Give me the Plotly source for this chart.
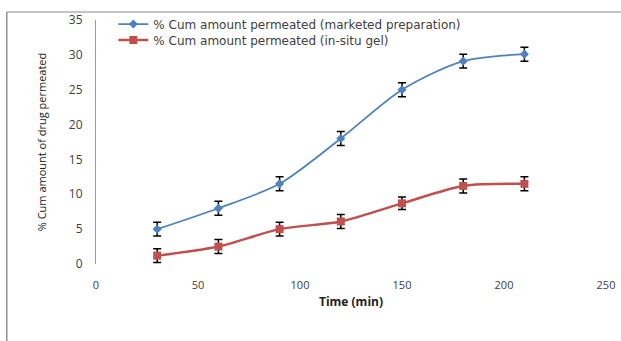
import plotly.graph_objects as go

time_min = [30, 60, 90, 120, 150, 180, 210]
marketed = [5.0, 8.0, 11.5, 18.0, 25.0, 29.1, 30.1]
marketed_err = [1.0, 1.0, 1.0, 1.0, 1.0, 1.0, 1.0]
insitu = [1.2, 2.5, 5.0, 6.1, 8.7, 11.2, 11.5]
insitu_err = [1.0, 1.0, 1.0, 1.0, 0.9, 1.0, 1.0]

FONT = "Open Sans"
LEG_FONT = dict(family="DejaVu Sans", size=12, color="#404040")

fig = go.Figure()
fig.add_trace(go.Scatter(
    x=time_min, y=marketed, mode="lines+markers",
    name="% Cum amount permeated (marketed preparation)",
    line=dict(color="#4F81BD", width=1.8, shape="spline", smoothing=0.8),
    marker=dict(symbol="diamond", size=7, color="#4F81BD"),
    error_y=dict(type="data", array=marketed_err, color="black", thickness=1.5, width=4),
    legend="legend",
))
fig.add_trace(go.Scatter(
    x=time_min, y=insitu, mode="lines+markers",
    name="% Cum amount permeated (in-situ gel)",
    line=dict(color="#C0504D", width=2.5, shape="spline", smoothing=0.8),
    marker=dict(symbol="square", size=8, color="#C0504D"),
    error_y=dict(type="data", array=insitu_err, color="black", thickness=1.5, width=4),
    legend="legend2",
))

fig.update_layout(
    width=621, height=341,
    margin=dict(l=96, r=15, t=20, b=77, autoexpand=False),
    paper_bgcolor="white", plot_bgcolor="white",
    font=dict(family=FONT, size=11, color="#404040"),
    showlegend=True,
    legend=dict(x=0.034, y=0.972, yref="container", xanchor="left", yanchor="top",
                bgcolor="rgba(0,0,0,0)", font=LEG_FONT, itemwidth=30),
    legend2=dict(x=0.034, y=0.925, yref="container", xanchor="left", yanchor="top",
                 bgcolor="rgba(0,0,0,0)", font=LEG_FONT, itemwidth=30),
    xaxis=dict(range=[0, 250], tickvals=[0, 50, 100, 150, 200, 250],
               showgrid=False, zeroline=False, showline=False,
               ticks="outside", ticklen=11, tickcolor="rgba(0,0,0,0)",
               title=dict(text="<b>Time (min)</b>", font=dict(size=12, color="#202020"), standoff=6)),
    yaxis=dict(range=[0, 35], tickvals=[0, 5, 10, 15, 20, 25, 30, 35],
               showgrid=False, zeroline=False, showline=True, linecolor="#9a9a9a", linewidth=1,
               ticks="outside", ticklen=10, tickcolor="rgba(0,0,0,0)",
               tickfont=dict(size=12),
               title=dict(text="% Cum amount of drug permeated", font=dict(size=11, color="#202020"), standoff=20)),
)

# outer frame (top and left edges visible)
fig.add_shape(type="line", xref="paper", yref="paper", x0=-0.175, x1=1.03, y0=1.033, y1=1.033,
              line=dict(color="#b0b0b0", width=1.5))
fig.add_shape(type="line", xref="paper", yref="paper", x0=-0.175, x1=-0.175, y0=1.033, y1=-0.32,
              line=dict(color="#909090", width=1.5))

fig.write_html("out.html")
